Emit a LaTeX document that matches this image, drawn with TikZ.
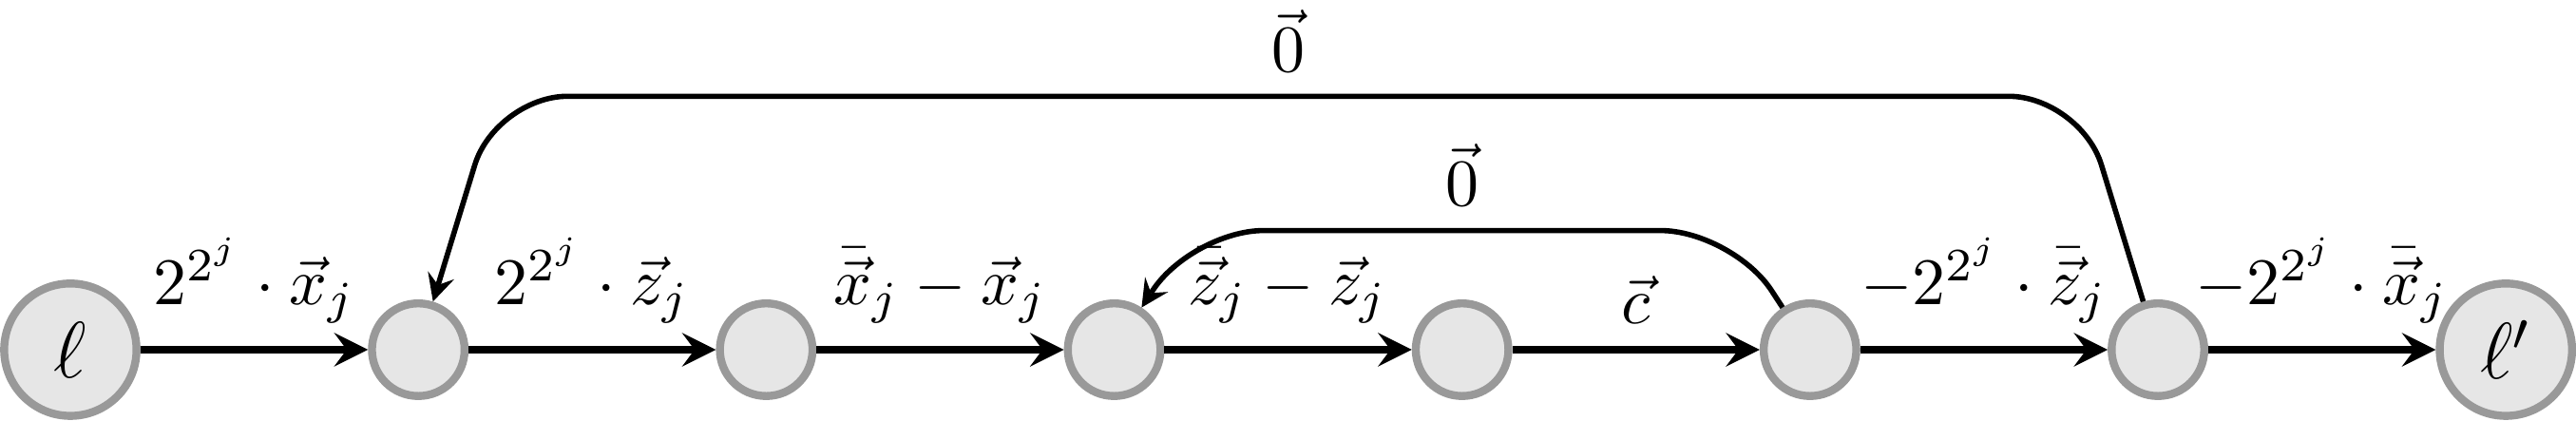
\documentclass[tikz,border=0pt]{standalone}
\usepackage{amssymb, amsmath}
\usepackage{color}
\usepackage{tikz}
\usetikzlibrary{calc}
\definecolor{light}{RGB}{230, 230, 230}
\definecolor{rim}{RGB}{153, 153, 153}

\begin{document}
\begin{tikzpicture}[very thick, >=stealth,
    place/.style={circle, draw=rim, fill=light, minimum size=0.70cm, inner sep=0pt, font=\large},
    waypoint/.style={circle, draw=rim, fill=light, minimum size=0.49cm, inner sep=0pt},
    back/.style={->, thick, rounded corners=0.38cm}]
  \useasboundingbox (-0.372, -0.377) rectangle (13.251, 1.849);

  % Locations
  \node[place] (l) at (0, 0) {$\ell$};
  \foreach \i in {1, ..., 6} {
    \node[waypoint] (q\i) at ({1.84 * \i}, 0) {};
  }
  \node[place] (lp) at ({1.84 * 7}, 0) {$\ell'$};

  % Forward edges
  \foreach \a/\b/\lab in {l/q1/{2^{2^j} \cdot \vec{x}_j}, q1/q2/{2^{2^j} \cdot \vec{z}_j},
      q2/q3/{\bar{\vec{x}}_j - \vec{x}_j}, q3/q4/{\bar{\vec{z}}_j - \vec{z}_j}, q4/q5/{\vec{c}},
      q5/q6/{-2^{2^j} \cdot \bar{\vec{z}}_j}, q6/lp/{-2^{2^j} \cdot \bar{\vec{x}}_j}} {
    \draw[->] (\a) -- node[above] {$\lab$} (\b);
  }

  % Back edges
  \draw[back] (q5) -- ++(-0.41, 0.63) -- node[above] {$\vec{0}$} ($(q3) + (0.41, 0.63)$) -- (q3);
  \draw[back] (q6) -- ++(-0.41, 1.34) -- node[above] {$\vec{0}$} ($(q1) + (0.41, 1.34)$) -- (q1);

\end{tikzpicture}
\end{document}
